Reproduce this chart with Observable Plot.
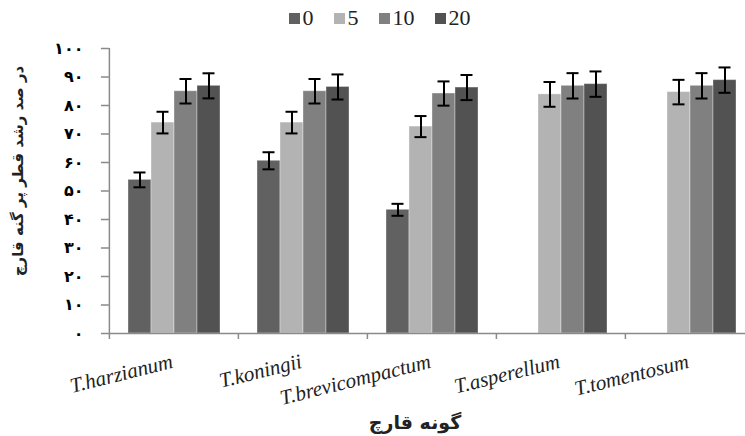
<!DOCTYPE html>
<html>
<head>
<meta charset="utf-8">
<script src="https://cdn.jsdelivr.net/npm/d3@7"></script>
<script src="https://cdn.jsdelivr.net/npm/@observablehq/plot@0.6"></script>
<style>
  html, body { margin: 0; padding: 0; background: #fff; }
  #legend { height: 36px; display: flex; justify-content: center; align-items: center; padding-left: 14px; box-sizing: border-box;
    font-family: "Liberation Serif", serif; font-size: 22px; color: #222; }
  #legend .item { display: flex; align-items: center; margin: 0 10px; }
  #legend .sw { width: 11px; height: 11px; margin-right: 3px; }
  svg { display: block; }
</style>
</head>
<body>
<div id="legend"></div>
<div id="chart"></div>
<script>
const categories = ["T.harzianum", "T.koningii", "T.brevicompactum", "T.asperellum", "T.tomentosum"];
const series = ["0", "5", "10", "20"];
const values0  = [53.9, 60.6, 43.4, 0, 0];
const values5  = [74.0, 74.0, 72.6, 83.9, 84.7];
const values10 = [85.0, 85.0, 84.2, 86.9, 86.9];
const values20 = [86.9, 86.5, 86.3, 87.5, 88.9];
const errors0  = [2.6, 3.0, 2.1, 0, 0];
const errors5  = [3.8, 3.8, 3.7, 4.35, 4.3];
const errors10 = [4.3, 4.3, 4.25, 4.45, 4.45];
const errors20 = [4.4, 4.4, 4.4, 4.45, 4.45];
const colors = ["#616161", "#b3b3b3", "#808080", "#525252"];
const yTicks = [0, 10, 20, 30, 40, 50, 60, 70, 80, 90, 100];
const yTitle = "در صد رشد قطر پر گنه قارچ";
const xTitle = "گونه قارچ";

const valuesBySeries = [values0, values5, values10, values20];
const errorsBySeries = [errors0, errors5, errors10, errors20];
const rows = [];
categories.forEach((c, i) => series.forEach((s, j) => rows.push({
  category: c, series: s, value: valuesBySeries[j][i], error: errorsBySeries[j][i]
})));
const errRows = rows.filter(d => d.error > 0);

const fa = n => String(n).replace(/\d/g, d => "۰۱۲۳۴۵۶۷۸۹"[d]);

// legend
const legend = document.getElementById("legend");
series.forEach((s, j) => {
  const it = document.createElement("div"); it.className = "item";
  const sw = document.createElement("div"); sw.className = "sw"; sw.style.background = colors[j];
  const tx = document.createElement("span"); tx.textContent = s;
  it.appendChild(sw); it.appendChild(tx); legend.appendChild(it);
});

const W = 745, H = 400, mTop = 12, mBottom = 103, mLeft = 108, mRight = 0;
const fxRange = [mLeft, 754];
const padInner = 0.28, padOuter = 0.14;
const step = (fxRange[1] - fxRange[0]) / (categories.length - padInner + 2 * padOuter);
const outer = step * padOuter;
const axisColor = "#8a8a8a";

const chart = Plot.plot({
  width: W,
  height: H,
  marginTop: mTop,
  marginBottom: mBottom,
  marginLeft: mLeft,
  marginRight: mRight,
  style: { fontFamily: "DejaVu Sans", background: "#fff", color: "#000" },
  fx: { domain: categories, range: fxRange, paddingInner: padInner, paddingOuter: padOuter },
  x: { domain: series, padding: 0, axis: null },
  y: { domain: [0, 100] },
  color: { domain: series, range: colors },
  marks: [
    Plot.barY(rows, { fx: "category", x: "series", y: "value", fill: "series", stroke: "#fff", strokeOpacity: 0.35, strokeWidth: 1 }),
    Plot.ruleY([0], { stroke: axisColor, strokeWidth: 1.5, insetLeft: -outer, insetRight: -outer }),
    // y-axis line, at the outer edge of the first category band
    Plot.ruleX([0], { x: null, facetAnchor: "left", dx: -step / 2, stroke: axisColor, strokeWidth: 1.5 }),
    Plot.axisY({ ticks: yTicks, tickFormat: fa, tickSize: 8, tickPadding: 18, dx: -outer, stroke: axisColor, strokeWidth: 1.5,
      fill: "#000", fontWeight: "bold", fontSize: 16, label: null }),
    Plot.axisFx({ anchor: "bottom", tickSize: 6, tickFormat: () => "", dx: -step / 2, stroke: axisColor, strokeWidth: 1.5, label: null }),
    Plot.ruleX(errRows, { fx: "category", x: "series", y1: d => d.value - d.error, y2: d => d.value + d.error, stroke: "#000", strokeWidth: 2 }),
    Plot.tickY(errRows, { fx: "category", x: "series", y: d => d.value - d.error, stroke: "#000", strokeWidth: 2, insetLeft: 5.5, insetRight: 5.5 }),
    Plot.tickY(errRows, { fx: "category", x: "series", y: d => d.value + d.error, stroke: "#000", strokeWidth: 2, insetLeft: 5.5, insetRight: 5.5 }),
    Plot.text(categories, { fx: d => d, text: d => d, frameAnchor: "bottom", textAnchor: "end", lineAnchor: "bottom", rotate: -14, dy: 34,
      fontFamily: "Liberation Serif", fontStyle: "italic", fontSize: 21, fill: "#222" }),
    Plot.text([yTitle], { facetAnchor: "left", frameAnchor: "left", textAnchor: "middle", lineAnchor: "middle", rotate: -90,
      dx: -outer - 91, dy: -20, fontWeight: "bold", fontSize: 15, fill: "#222" }),
    Plot.text([xTitle], { fx: () => categories[2], frameAnchor: "bottom", textAnchor: "middle", lineAnchor: "middle", dy: 89, dx: -17,
      fontWeight: "bold", fontSize: 19, fill: "#222" })
  ]
});
document.getElementById("chart").appendChild(chart);
</script>
</body>
</html>
